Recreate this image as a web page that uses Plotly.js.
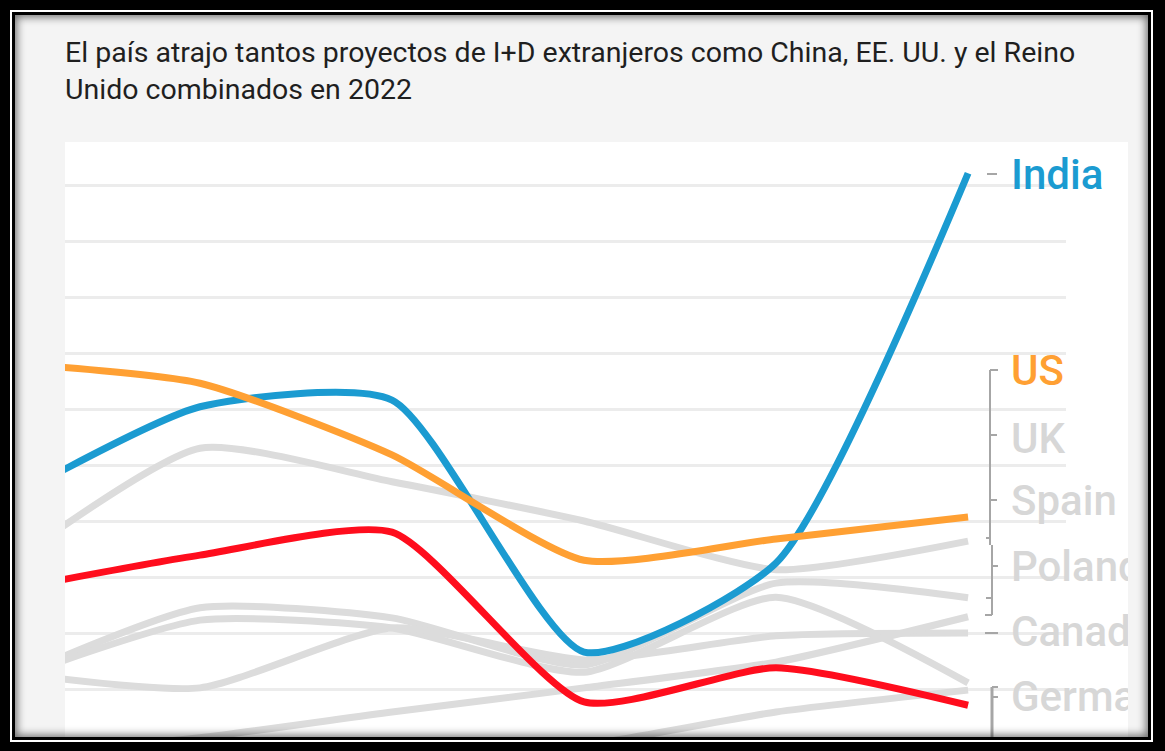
<!DOCTYPE html>
<html>
<head>
<meta charset="utf-8">
<script src="https://cdn.plot.ly/plotly-3.0.1.min.js"></script>
<style>
  body { margin: 0; background: #000; width: 1165px; height: 751px; overflow: hidden; }
  #outer { position: absolute; left: 10px; top: 10px; width: 1143px; height: 732px; box-sizing: border-box; border: 2px solid #fff; }
  #inner { position: absolute; left: 12px; top: 12px; width: 1139px; height: 728px; box-sizing: border-box; border: 3px solid #000; background: #f4f4f4; }
  #chart { position: absolute; left: 15px; top: 15px; width: 1113px; height: 722px; }
  #shade { position: absolute; left: 15px; top: 15px; width: 1133px; height: 722px; pointer-events: none;
           box-shadow: inset 0 0 9px 2px rgba(0,0,0,0.55); }
</style>
</head>
<body>
<div id="outer"></div>
<div id="inner"></div>
<div id="chart"></div>
<div id="shade"></div>
<script>
// years on the x axis (2017 is left of the visible part)
var years = [2017, 2018, 2019, 2020, 2021, 2022];

// values (no y scale shown, arbitrary units)
var india   = [43.8, 60.4, 61.6, 16.6, 32.5, 102.1];
var us      = [68.2, 64.6, 51.8, 33.0, 36.8, 40.7];
var china   = [27.7, 33.9, 38.0, 7.7, 13.8, 7.1];

var uk      = [32.1, 53.0, 47.0, 40.0, 31.3, 36.4];
var spain   = [11.6, 24.5, 22.7, 14.3, 28.9, 26.3];
var germany = [11.6, 22.3, 20.9, 13.0, 26.4, 11.1];
var canada  = [13.0, 10.2, 20.9, 15.2, 19.5, 20.0];
var poland  = [-1.8, 1.3, 5.9, 10.2, 14.8, 22.9];
var other   = [-4.5, -3.6, -2.3, 0.0, 5.9, 9.8];

var greySeries = [uk, spain, germany, canada, poland, other];

// labels on the right
var labelNames  = ['India', 'US', 'UK', 'Spain', 'Poland', 'Canada', 'Germany'];
var labelY      = [101.8, 66.8, 54.8, 43.75, 31.8, 20.2, 8.6];
var labelColors = ['#1b9bd1', '#ffa033', '#d7d7d7', '#d7d7d7', '#d7d7d7', '#d7d7d7', '#d7d7d7'];

var blue = '#1b9bd1', orange = '#ffa033', red = '#ff0d1d', grey = '#dcdcdc';

function makeLine(vals, color) {
  return {
    x: years, y: vals, type: 'scatter', mode: 'lines',
    line: { color: color, width: 7, shape: 'spline', smoothing: 0.6 },
    hoverinfo: 'skip'
  };
}

var data = [];
greySeries.forEach(function(s) { data.push(makeLine(s, grey)); });
data.push(makeLine(china, red));
data.push(makeLine(india, blue));
data.push(makeLine(us, orange));

// page pixel -> paper helpers for the bracket marks
function px(x) { return (x - 65) / 1001; }
function py(y) { return (737 - y) / 595; }

var shapes = [
  // white area behind the labels
  { type: 'rect', xref: 'paper', yref: 'paper', x0: 1, x1: 1.2, y0: 0, y1: 1,
    fillcolor: '#fff', line: { width: 0 }, layer: 'below' }
];

function seg(x0, y0, x1, y1, w) {
  shapes.push({ type: 'line', xref: 'paper', yref: 'paper',
    x0: px(x0), y0: py(y0), x1: px(x1), y1: py(y1),
    line: { color: '#a6a6a6', width: w || 2 } });
}
seg(987, 174, 997, 174);
seg(990, 370, 990, 545); seg(990, 370, 998, 370); seg(990, 435, 997, 435); seg(990, 500, 997, 500);
seg(986, 538, 990, 538);
seg(992, 545, 992, 615); seg(992, 566, 998, 566); seg(986, 598, 992, 598); seg(985, 615, 992, 615);
seg(985, 633, 998, 633);
seg(992, 687, 992, 740, 3); seg(992, 687, 998, 687); seg(992, 697, 998, 697);

var annotations = labelNames.map(function(name, i) {
  return {
    text: name, xref: 'paper', yref: 'y', x: px(1009), y: labelY[i],
    xanchor: 'left', yanchor: 'middle', showarrow: false,
    font: { family: 'Roboto, sans-serif', size: 42, weight: 500, color: labelColors[i] }
  };
});

var layout = {
  width: 1113, height: 722,
  margin: { l: 50, r: 62, t: 127, b: 0 },
  paper_bgcolor: 'rgba(0,0,0,0)',
  plot_bgcolor: '#fff',
  showlegend: false,
  title: {
    text: 'El país atrajo tantos proyectos de I+D extranjeros como China, EE. UU. y el Reino<br>Unido combinados en 2022',
    font: { family: 'Roboto, sans-serif', size: 28.5, color: '#1f1f1f' },
    xref: 'paper', x: 0, xanchor: 'left',
    yref: 'container', y: 0.935, yanchor: 'top'
  },
  xaxis: { range: [2017.297, 2022.51], showgrid: false, zeroline: false, showticklabels: false, showline: false, fixedrange: true },
  yaxis: { range: [1.4286, 107.68], tick0: 0, dtick: 10, showgrid: true, gridcolor: '#ececec', gridwidth: 3,
           zeroline: false, showticklabels: false, showline: false, ticks: '', fixedrange: true },
  shapes: shapes,
  annotations: annotations
};

Plotly.newPlot('chart', data, layout, { displayModeBar: false, staticPlot: true });
</script>
</body>
</html>
